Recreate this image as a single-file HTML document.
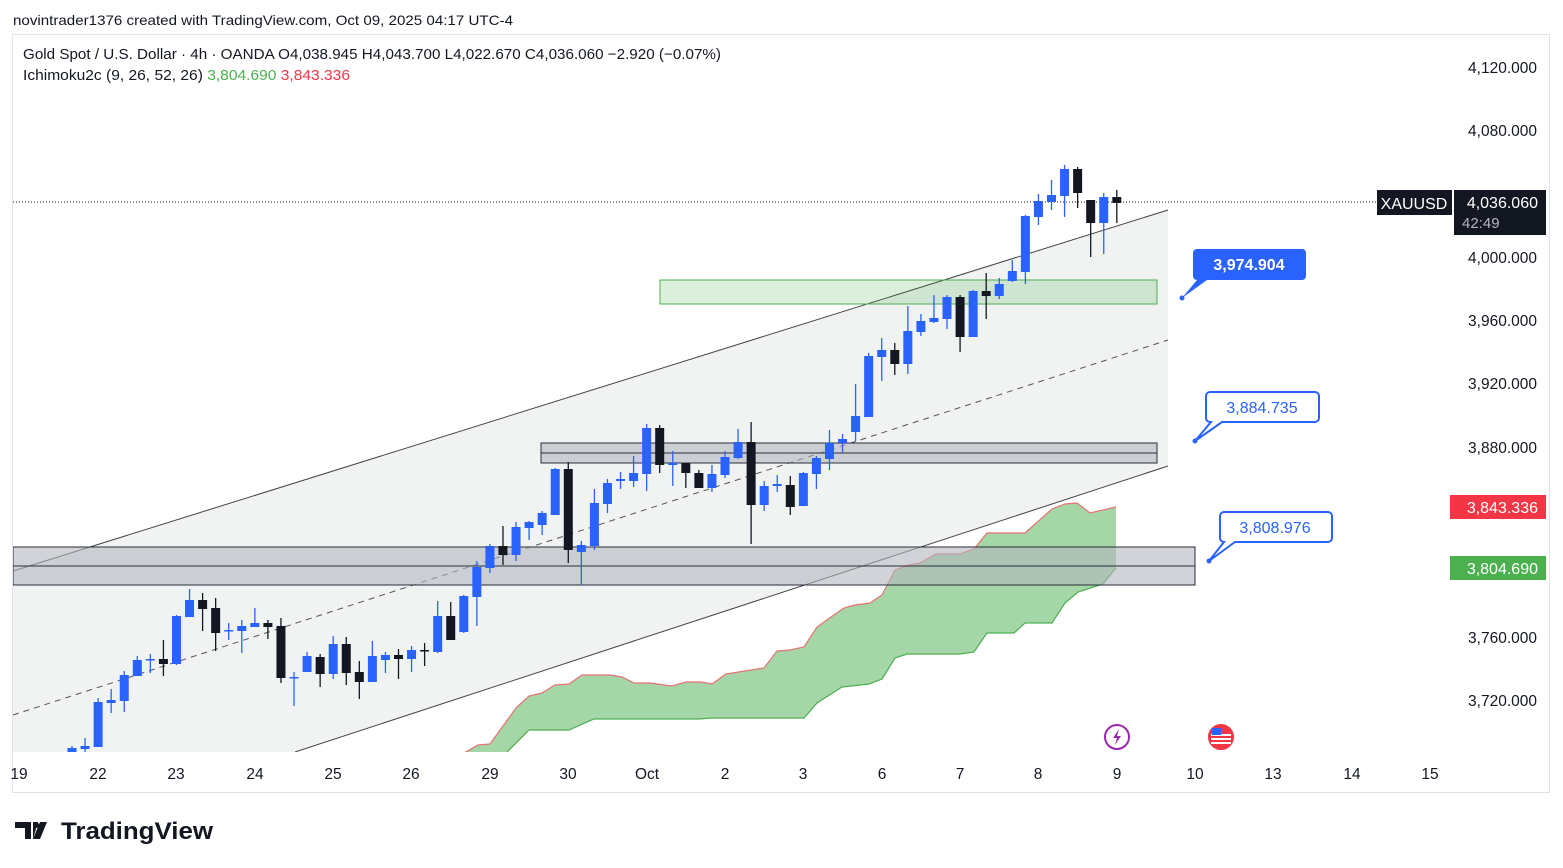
<!DOCTYPE html>
<html><head><meta charset="utf-8"><style>
html,body{margin:0;padding:0;background:#fff;width:1563px;height:868px;overflow:hidden;font-family:"Liberation Sans",sans-serif;}
svg text{font-family:"Liberation Sans",sans-serif;}
</style></head><body>
<svg id="s" width="1563" height="868" viewBox="0 0 1563 868" xmlns="http://www.w3.org/2000/svg">
<rect x="0" y="0" width="1563" height="868" fill="#fff"/>
<text x="13" y="25" font-size="14" fill="#131722" textLength="500" lengthAdjust="spacingAndGlyphs">novintrader1376 created with TradingView.com, Oct 09, 2025 04:17 UTC-4</text>
<rect x="12.5" y="34.5" width="1537" height="758" fill="#fff" stroke="#e0e3eb"/>
<defs><clipPath id="pc"><rect x="13" y="35" width="1427" height="717"/></clipPath></defs>
<g clip-path="url(#pc)">
<polygon points="13,571 1168,210 1168,466 295,752 13,752" fill="#f1f3f3"/>
<line x1="13" y1="571" x2="1168" y2="210" stroke="#444" stroke-width="1"/>
<line x1="295" y1="752" x2="1168" y2="466" stroke="#444" stroke-width="1"/>
<line x1="13" y1="715" x2="1168" y2="340" stroke="#555" stroke-width="1" stroke-dasharray="6,5"/>
<polygon points="464,753 478,745 490,744 516,708 529,696 542,693 555,685 569,684 582,675 610,675 622,677 634,683 650,683 672,686 686,682 701,682 712,684 726,674 764,668 777,651 790,650 804,647 817,627 831,617 844,608 855,605 870,603 882,595 895,570 909,565 920,563 936,554 960,554 974,549 987,533 1025,533 1052,509 1065,504 1077,503 1090,513 1116,507 1116,568 1103,584 1078,592 1065,603 1052,623 1025,623 1014,633 987,633 974,652 960,654 907,654 895,658 882,679 869,684 842,687 817,703 804,718 712,718 699,719 594,719 569,730 529,730 506,753" fill="#a5d6a7"/>
<polyline points="464,753 478,745 490,744 516,708 529,696 542,693 555,685 569,684 582,675 610,675 622,677 634,683 650,683 672,686 686,682 701,682 712,684 726,674 764,668 777,651 790,650 804,647 817,627 831,617 844,608 855,605 870,603 882,595 895,570 909,565 920,563 936,554 960,554 974,549 987,533 1025,533 1052,509 1065,504 1077,503 1090,513 1116,507" fill="none" stroke="#e57373" stroke-width="1.2"/>
<polyline points="506,753 529,730 569,730 594,719 699,719 712,718 804,718 817,703 842,687 869,684 882,679 895,658 907,654 960,654 974,652 987,633 1014,633 1025,623 1052,623 1065,603 1078,592 1103,584 1116,568" fill="none" stroke="#4caf50" stroke-width="1.2"/>
<rect x="13" y="547" width="1182" height="38" fill="#b2b5be" fill-opacity="0.6" stroke="#2a2e39" stroke-width="1"/>
<line x1="13" y1="566" x2="1195" y2="566" stroke="#2a2e39"/>
<rect x="541" y="443" width="616" height="20" fill="#b2b5be" fill-opacity="0.6" stroke="#2a2e39" stroke-width="1"/>
<line x1="541" y1="453" x2="1157" y2="453" stroke="#2a2e39"/>
<rect x="660" y="280" width="497" height="24" fill="#4caf50" fill-opacity="0.2" stroke="#4caf50" stroke-width="1"/>
<line x1="13" y1="202" x2="1377" y2="202" stroke="#131722" stroke-dasharray="1,2"/>
<g id="cd"></g>
</g>
<g font-size="15.5" fill="#131722" text-anchor="end">
<text x="1537" y="73">4,120.000</text>
<text x="1537" y="136">4,080.000</text>
<text x="1537" y="263">4,000.000</text>
<text x="1537" y="326">3,960.000</text>
<text x="1537" y="389">3,920.000</text>
<text x="1537" y="453">3,880.000</text>
<text x="1537" y="643">3,760.000</text>
<text x="1537" y="706">3,720.000</text>
</g>
<rect x="1377" y="190" width="75" height="25" fill="#131722"/>
<text x="1414" y="209" font-size="16" fill="#fff" text-anchor="middle">XAUUSD</text>
<rect x="1454" y="190" width="92" height="45" fill="#131722"/>
<text x="1538" y="208" font-size="16" fill="#fff" text-anchor="end">4,036.060</text>
<text x="1462" y="228" font-size="15" fill="#b2b5be">42:49</text>
<rect x="1450" y="495" width="96" height="24" fill="#f23645"/>
<text x="1538" y="513" font-size="16" fill="#fff" text-anchor="end">3,843.336</text>
<rect x="1450" y="556" width="96" height="24" fill="#4caf50"/>
<text x="1538" y="574" font-size="16" fill="#fff" text-anchor="end">3,804.690</text>
<path d="M1193,253 a4,4 0 0 1 4,-4 h105 a4,4 0 0 1 4,4 v23 a4,4 0 0 1 -4,4 h-95 l-25,18 l15,-18 h-0 a4,4 0 0 1 -4,-4z" fill="#2962ff"/>
<circle cx="1182" cy="298" r="2.5" fill="#2962ff"/>
<text x="1249" y="270" font-size="16" font-weight="bold" fill="#fff" text-anchor="middle">3,974.904</text>
<path d="M1210,392 h105 a4,4 0 0 1 4,4 v22 a4,4 0 0 1 -4,4 h-93 l-27,19 l16,-19 h-1 a4,4 0 0 1 -4,-4 v-22 a4,4 0 0 1 4,-4z" fill="#fff" stroke="#2962ff" stroke-width="2"/>
<circle cx="1195" cy="441" r="2.5" fill="#2962ff"/>
<text x="1262" y="413" font-size="16" fill="#2962ff" text-anchor="middle">3,884.735</text>
<path d="M1224,512 h104 a4,4 0 0 1 4,4 v22 a4,4 0 0 1 -4,4 h-93 l-26,19 l15,-19 h0 a4,4 0 0 1 -4,-4 v-22 a4,4 0 0 1 4,-4z" fill="#fff" stroke="#2962ff" stroke-width="2"/>
<circle cx="1209" cy="561" r="2.5" fill="#2962ff"/>
<text x="1275" y="533" font-size="16" fill="#2962ff" text-anchor="middle">3,808.976</text>
<circle cx="1117" cy="737" r="12" fill="#fff" stroke="#9c27b0" stroke-width="2"/>
<path d="M1119,729 l-6,9 h4 l-2,7 l6,-9 h-4z" fill="#9c27b0"/>
<circle cx="1221" cy="737" r="12" fill="#f23645" stroke="#f23645" stroke-width="2"/>
<rect x="1211" y="734" width="20" height="2" fill="#fff"/><rect x="1211" y="738" width="20" height="2" fill="#fff"/><rect x="1211" y="742" width="20" height="2" fill="#fff"/>
<rect x="1212" y="728" width="9" height="7" fill="#2962ff"/>
<g font-size="15.5" fill="#131722" text-anchor="middle">
<text x="19" y="779">19</text><text x="98" y="779">22</text><text x="176" y="779">23</text><text x="255" y="779">24</text><text x="333" y="779">25</text><text x="411" y="779">26</text><text x="490" y="779">29</text><text x="568" y="779">30</text><text x="647" y="779">Oct</text><text x="725" y="779">2</text><text x="803" y="779">3</text><text x="882" y="779">6</text><text x="960" y="779">7</text><text x="1038" y="779">8</text><text x="1117" y="779">9</text><text x="1195" y="779">10</text><text x="1273" y="779">13</text><text x="1352" y="779">14</text><text x="1430" y="779">15</text>
</g>
<text x="23" y="59" font-size="14.5" fill="#131722" textLength="698" lengthAdjust="spacingAndGlyphs">Gold Spot / U.S. Dollar · 4h · OANDA  O4,038.945  H4,043.700  L4,022.670  C4,036.060  −2.920 (−0.07%)</text>
<text x="23" y="80" font-size="14.5" fill="#131722" textLength="327" lengthAdjust="spacingAndGlyphs">Ichimoku2c (9, 26, 52, 26) <tspan fill="#4caf50">3,804.690</tspan> <tspan fill="#f23645">3,843.336</tspan></text>
<path d="M15,822 h16 v17 h-6 v-11 h-10z M33,822 h5 l-5,17 z" fill="#131722"/>
<circle cx="36" cy="825" r="3" fill="#131722"/>
<path d="M40,822 h7 l-7,17 h-7z" fill="#131722"/>
<text x="61" y="839" font-size="24" font-weight="bold" fill="#131722" textLength="152" lengthAdjust="spacingAndGlyphs">TradingView</text>
</svg>
<script>
var d=[
[1,748,753,746,753,'b'],[2,746,749,738,753,'b'],[3,702,747,698,747,'b'],[4,700,703,689,713,'b'],[5,675,701,671,712,'b'],
[6,660,676,656,676,'b'],[7,659,660,654,673,'b'],[8,659,664,640,676,'k'],[9,616,664,615,665,'b'],[10,600,617,589,617,'b'],
[11,600,609,593,631,'k'],[12,608,633,598,651,'k'],[13,630,631,623,640,'b'],[14,626,631,620,653,'b'],[15,623,627,608,627,'b'],
[16,623,627,620,639,'k'],[17,626,678,618,683,'k'],[18,677,678,672,706,'b'],[19,656,672,652,672,'b'],[20,657,674,654,687,'k'],
[21,644,674,636,679,'b'],[22,644,673,637,685,'k'],[23,672,682,661,699,'k'],[24,656,682,641,682,'b'],[25,655,660,652,673,'b'],
[26,655,659,649,679,'k'],[27,650,659,646,672,'b'],[28,650,651,643,666,'k'],[29,616,652,601,653,'b'],[30,616,640,602,640,'k'],
[31,596,632,595,633,'b'],[32,567,597,561,626,'b'],[33,546,568,544,573,'b'],[34,546,555,526,565,'k'],[35,527,555,522,561,'b'],
[36,522,528,521,540,'b'],[37,513,525,511,535,'b'],[38,469,515,468,515,'b'],[39,469,550,462,563,'k'],[40,545,552,541,585,'b'],
[41,503,546,489,550,'b'],[42,483,504,479,513,'b'],[43,479,481,472,489,'b'],[44,473,481,456,487,'b'],[45,428,474,424,491,'b'],
[46,428,465,425,473,'k'],[47,463,465,451,486,'b'],[48,463,473,463,488,'k'],[49,473,488,470,488,'k'],[50,474,488,465,492,'b'],
[51,457,475,451,478,'b'],[52,442,458,429,459,'b'],[53,442,505,422,544,'k'],[54,486,505,481,511,'b'],[55,484,486,475,492,'b'],
[56,485,507,476,515,'k'],[57,473,506,472,506,'b'],[58,458,474,456,489,'b'],[59,443,459,430,470,'b'],[60,439,443,434,453,'b'],
[61,416,432,384,441,'b'],[62,356,417,353,417,'b'],[63,350,357,338,381,'b'],[64,350,364,343,375,'k'],[65,331,364,306,374,'b'],
[66,321,332,314,336,'b'],[67,318,322,295,323,'b'],[68,297,319,295,329,'b'],[69,297,337,295,352,'k'],[70,291,337,290,337,'b'],
[71,291,296,273,319,'k'],[72,284,296,278,299,'b'],[73,271,281,260,282,'b'],[74,216,272,215,284,'b'],[75,201,217,194,225,'b'],
[76,195,202,180,210,'b'],[77,169,196,165,217,'b'],[78,169,193,167,208,'k'],[79,200,223,200,257,'k'],[80,197,223,193,254,'b'],
[81,197,203,190,223,'k']];
var g=document.getElementById('cd'),h='';
d.forEach(function(c){var x=72+(c[0]-1)*13.06,col=c[5]=='b'?'#2962ff':'#131722';
h+='<line x1="'+x+'" y1="'+c[3]+'" x2="'+x+'" y2="'+c[4]+'" stroke="'+col+'" stroke-width="1.3"/>';
h+='<rect x="'+(x-4.5)+'" y="'+c[1]+'" width="9" height="'+Math.max(1.5,c[2]-c[1])+'" fill="'+col+'"/>';});
g.innerHTML=h;
</script>
</body></html>
